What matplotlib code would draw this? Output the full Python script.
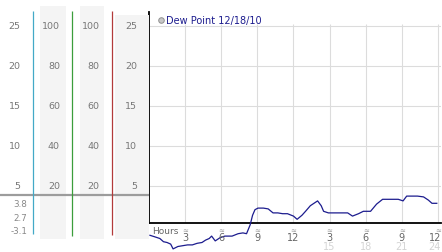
import matplotlib
matplotlib.use("Agg")
import matplotlib.pyplot as plt
from matplotlib.lines import Line2D

# dew point trace (hours since midnight, deg)
hours = [0.08, 0.5, 0.9, 1.2, 1.5, 1.8, 2.0, 2.4, 2.8, 3.2, 3.6, 4.0, 4.4, 4.7,
         5.0, 5.2, 5.5, 5.9, 6.3, 6.9, 7.4, 7.8, 8.1, 8.4, 8.6, 8.8, 9.05,
         9.5, 9.9, 10.3, 10.7, 11.1, 11.5, 12.0, 12.3, 12.7, 13.0, 13.4, 13.7,
         14.0, 14.3, 14.5, 14.9, 15.4, 15.9, 16.5, 16.9, 17.4, 17.8, 18.4,
         18.9, 19.4, 20.2, 20.7, 21.1, 21.4, 21.9, 22.3, 22.8, 23.2, 23.5, 23.9]
dewpt = [-1.2, -1.4, -1.6, -2.0, -2.1, -2.3, -2.9, -2.6, -2.5, -2.4, -2.4, -2.2,
         -2.1, -1.8, -1.6, -1.3, -1.9, -1.5, -1.3, -1.3, -1.0, -0.9, -1.0, 0.1,
         1.3, 2.0, 2.2, 2.2, 2.1, 1.6, 1.6, 1.5, 1.5, 1.2, 0.8, 1.3, 1.8, 2.5,
         2.8, 3.1, 2.5, 1.8, 1.6, 1.6, 1.6, 1.6, 1.2, 1.5, 1.8, 1.8, 2.7, 3.3,
         3.3, 3.3, 3.1, 3.7, 3.7, 3.7, 3.6, 3.2, 2.8, 2.8]

y_ticks = [25, 20, 15, 10, 5]
pct_ticks = [100, 80, 60, 40, 20]
hour_ticks = [3, 6, 9, 12, 15, 18, 21, 24]
hour_labels = ["3", "6", "9", "12", "3", "6", "9", "12"]
hour_labels2 = ["", "", "", "", "15", "18", "21", "24"]
stat_vals = ["3.8", "2.7", "-3.1"]
mark_line = 3.8
legend_label = "Dew Point 12/18/10"

W, H = 442, 253
fig = plt.figure(figsize=(W / 100, H / 100), dpi=100)
fig.patch.set_facecolor("white")

def py(v):
    # pixel row -> data value (8 px per degree, 0 at row 226.7)
    return (226.7 - v) / 8.0

ylo, yhi = py(224), py(13)
xmax = 24.25

# main plot
ax = fig.add_axes([149 / W, (H - 224) / H, (441 - 149) / W, (224 - 13) / H])
ax.set_xlim(0, xmax)
ax.set_ylim(ylo, yhi)
for s in ["top", "right"]:
    ax.spines[s].set_visible(False)
ax.spines["left"].set_linewidth(1.3)
ax.spines["bottom"].set_linewidth(1.3)
ax.set_xticks([])
ax.set_yticks([])

ax.hlines(y_ticks, 0, xmax, color="#dcdcdc", lw=0.8, zorder=1)
ax.vlines(hour_ticks, ylo, py(25), color="#dcdcdc", lw=0.8, zorder=1)
ax.plot(hours, dewpt, color="#1c1c8e", lw=0.9, clip_on=False, zorder=3)

for v in y_ticks:
    ax.text(-0.3, v, "≈", fontsize=5, color="#999999", ha="center", va="center",
            clip_on=False)
ax.text(0.3, py(231.7), "Hours", fontsize=6.5, color="#666666", ha="left",
        va="center", clip_on=False)
for h, l1, l2 in zip(hour_ticks, hour_labels, hour_labels2):
    ax.text(h, py(230.5), "≈", fontsize=5, color="#999999", ha="center",
            va="center", clip_on=False)
    x, ha = (h, "center") if h < 24 else (xmax, "right")
    ax.text(x, py(238.5), l1, fontsize=7, color="#666666", ha=ha,
            va="center", clip_on=False)
    ax.text(x, py(247.5), l2, fontsize=7, color="#d4d4d4", ha=ha,
            va="center", clip_on=False)

# legend
fig.add_artist(Line2D([161 / W], [1 - 20.7 / H], marker="o", markersize=4,
                      markerfacecolor="#c8c8c8", markeredgecolor="#909090",
                      markeredgewidth=0.7, transform=fig.transFigure))
fig.text(165.5 / W, 1 - 21 / H, legend_label, fontsize=7, color="#1c1c8e",
         ha="left", va="center")

# left scale panels
axl = fig.add_axes([0, (H - 224) / H, 149 / W, (224 - 13) / H])
axl.set_xlim(0, 149)
axl.set_ylim(ylo, yhi)
axl.axis("off")

panel_gray = "#f4f4f4"
axl.fill_between([40, 66], py(240), py(7), color=panel_gray, lw=0, clip_on=False)
axl.fill_between([80, 104], py(240), py(7), color=panel_gray, lw=0, clip_on=False)
axl.fill_between([115, 149], py(240), py(16), color=panel_gray, lw=0, clip_on=False)

axl.hlines(mark_line, 0, 149, color="#9c9c9c", lw=1.6, clip_on=False, zorder=2)
axl.vlines(33.3, py(235), py(12), color="#43a9c7", lw=0.9, clip_on=False, zorder=3)
axl.vlines(72.3, py(237), py(12), color="#3c9e3c", lw=0.9, clip_on=False, zorder=3)
axl.vlines(111.5, py(236), py(12), color="#b23a3a", lw=0.9, clip_on=False, zorder=3)

for v, p in zip(y_ticks, pct_ticks):
    axl.text(20.5, v, str(v), fontsize=6.8, color="#777777", ha="right", va="center")
    axl.text(60, v, str(p), fontsize=6.8, color="#777777", ha="right", va="center")
    axl.text(99.5, v, str(p), fontsize=6.8, color="#777777", ha="right", va="center")
    axl.text(137, v, str(v), fontsize=6.8, color="#777777", ha="right", va="center")

for s, row in zip(stat_vals, [205, 219, 232]):
    axl.text(27, py(row), s, fontsize=6.3, color="#888888", ha="right",
             va="center", clip_on=False)

fig.savefig("out.png", dpi=100)
